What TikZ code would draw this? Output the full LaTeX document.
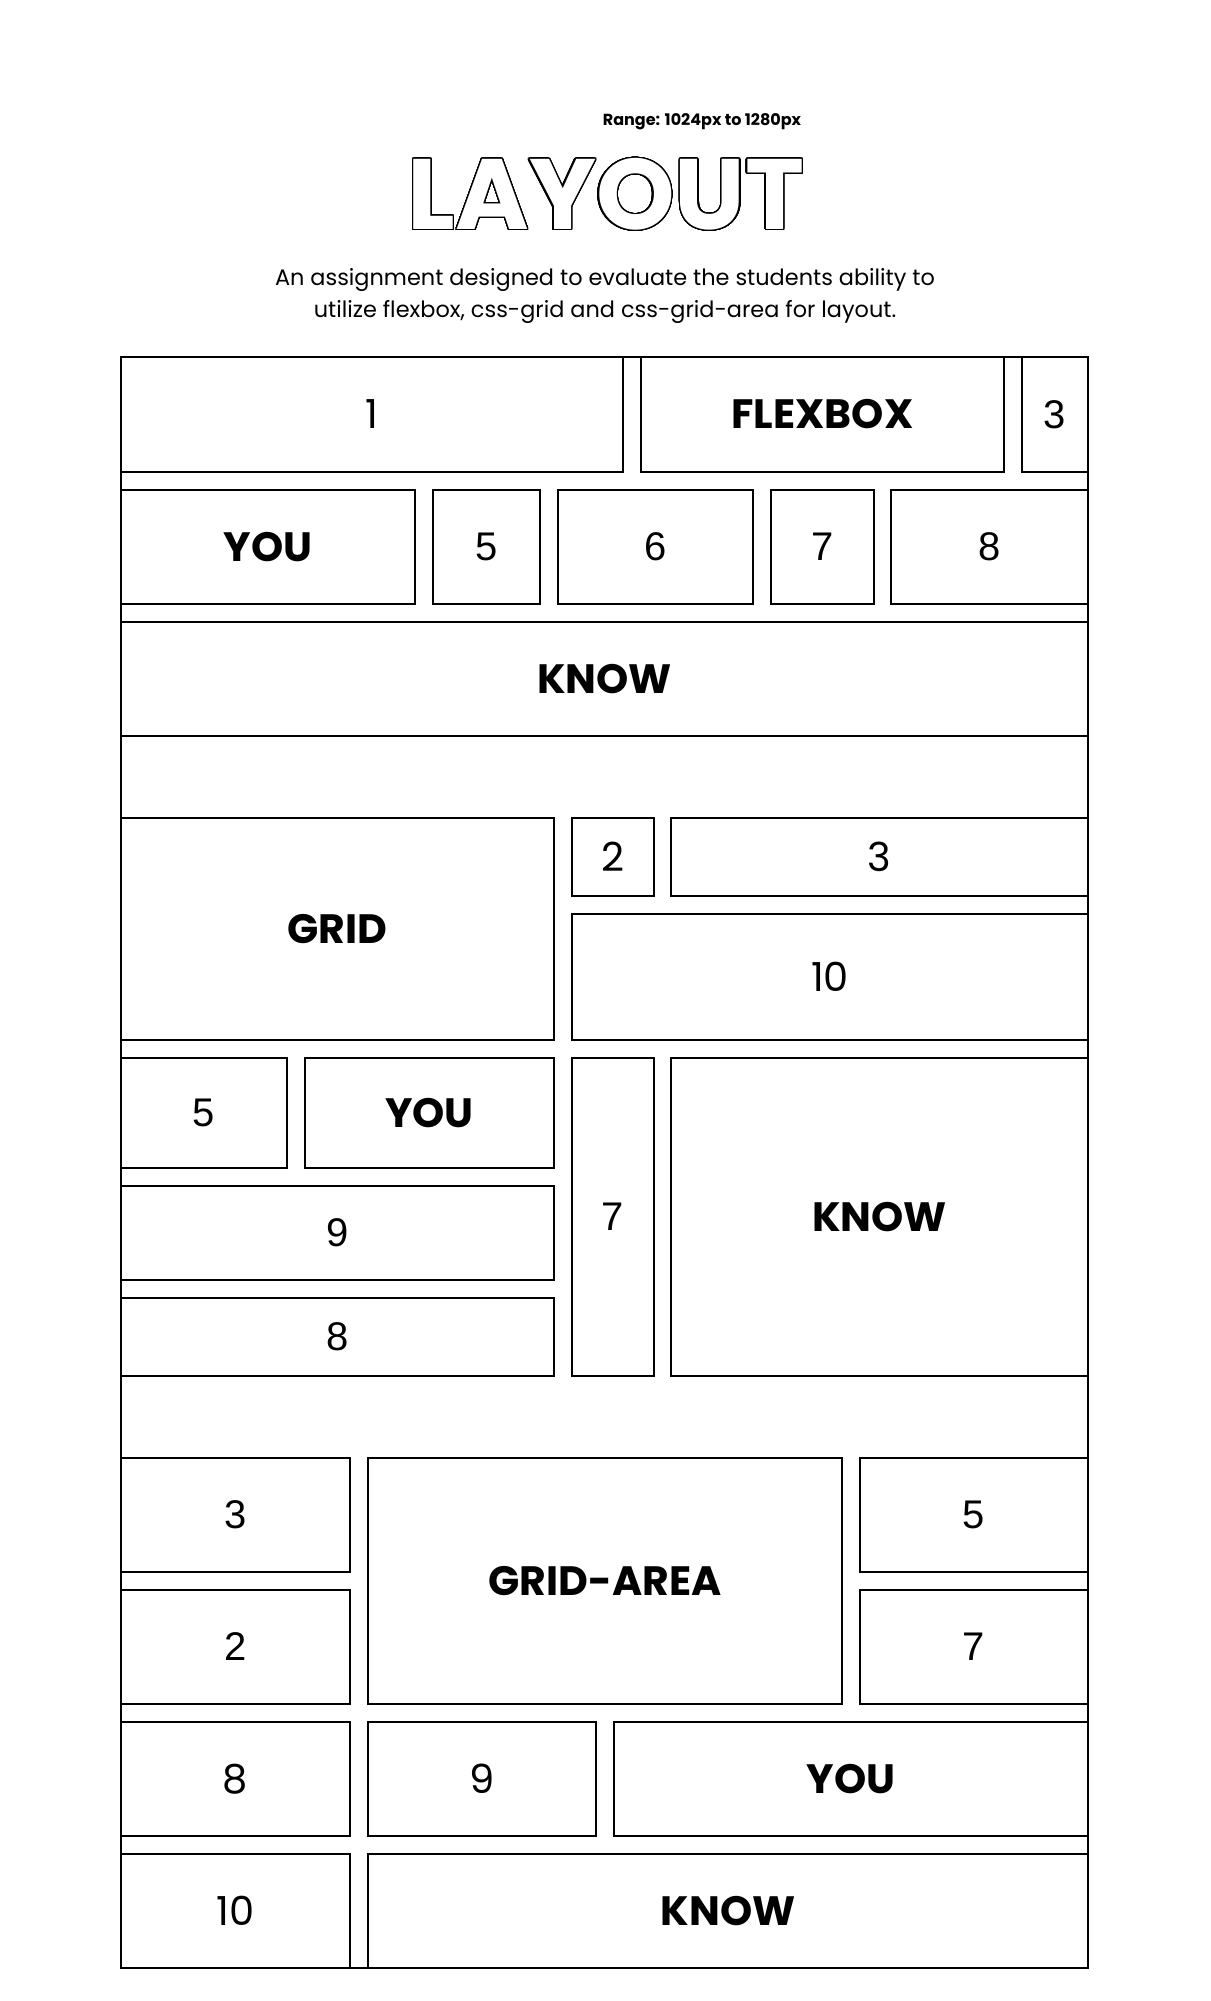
\documentclass[tikz,border=0pt]{standalone}
\usepackage{fontspec}
\usepackage{contour}
\newfontfamily\pop{Poppins}
\newfontfamily\ari{Liberation Sans}
\contourlength{1.3pt}
\contournumber{48}
\tikzset{
  box/.style={draw=black, line width=1.5pt, inner sep=0pt, outer sep=0pt, font=\fontsize{40}{48}\selectfont\ari},
  pnum/.style={font=\fontsize{40}{48}\selectfont\pop},
  bold/.style={font=\fontsize{41}{48}\selectfont\pop\bfseries},
}
\newcommand\bx[7][]{%
  \pgfmathsetmacro\bw{#5-#3}\pgfmathsetmacro\bh{#6-#4}%
  \node[box, #1, minimum width=\bw pt, minimum height=\bh pt] (#2) at ({(#3+#5)/2},{(#4+#6)/2}) {#7};}
\begin{document}
\begin{tikzpicture}[x=1pt,y=-1pt]
\useasboundingbox[fill=white] (0,0) rectangle (1210,2001);
% header
\node[font=\fontsize{16}{19}\selectfont\pop\bfseries] (range) at (702,122) {Range: 1024px to 1280px};
\node[font=\fontsize{100}{106}\selectfont\pop\bfseries] (title) at (606,195) {\contour{black}{\textcolor{white}{LAYOUT}}};
\node[font=\fontsize{22.4}{32}\selectfont\pop, align=center] (desc) at (605,296) {An assignment designed to evaluate the students ability to\\utilize flexbox, css-grid and css-grid-area for layout.};
% frame
\bx{frame}{121}{357}{1088}{1968}{}
% flexbox
\bx[pnum]{f1}{121}{357}{623}{472}{1}
\bx[bold]{fflex}{641}{357}{1004}{472}{FLEXBOX}
\bx{f3}{1022}{357}{1088}{472}{3}
\bx[bold]{fyou}{121}{490}{415}{604}{YOU}
\bx{f5}{433}{490}{540}{604}{5}
\bx{f6}{558}{490}{753}{604}{6}
\bx{f7}{771}{490}{874}{604}{7}
\bx{f8}{891}{490}{1088}{604}{8}
\bx[bold]{fknow}{121}{622}{1088}{736}{KNOW}
% grid
\bx[bold]{ggrid}{121}{818}{554}{1040}{GRID}
\bx[pnum]{g2}{572}{818}{654}{896}{2}
\bx[pnum]{g3}{671}{818}{1088}{896}{3}
\bx[pnum]{g10}{572}{914}{1088}{1040}{10}
\bx{g5}{121}{1058}{287}{1168}{5}
\bx[bold]{gyou}{305}{1058}{554}{1168}{YOU}
\bx{g9}{121}{1186}{554}{1280}{9}
\bx{g8}{121}{1298}{554}{1376}{8}
\bx{g7}{572}{1058}{654}{1376}{7}
\bx[bold]{gknow}{671}{1058}{1088}{1376}{KNOW}
% grid-area
\bx{a3}{121}{1458}{350}{1572}{3}
\bx{a2}{121}{1590}{350}{1704}{2}
\bx[bold]{aarea}{368}{1458}{842}{1704}{GRID-AREA}
\bx{a5}{860}{1458}{1088}{1572}{5}
\bx{a7}{860}{1590}{1088}{1704}{7}
\bx[pnum]{a8}{121}{1722}{350}{1836}{8}
\bx[pnum]{a9}{368}{1722}{596}{1836}{9}
\bx[bold]{ayou}{614}{1722}{1088}{1836}{YOU}
\bx[pnum]{a10}{121}{1854}{350}{1968}{10}
\bx[bold]{aknow}{368}{1854}{1088}{1968}{KNOW}
\end{tikzpicture}
\end{document}
